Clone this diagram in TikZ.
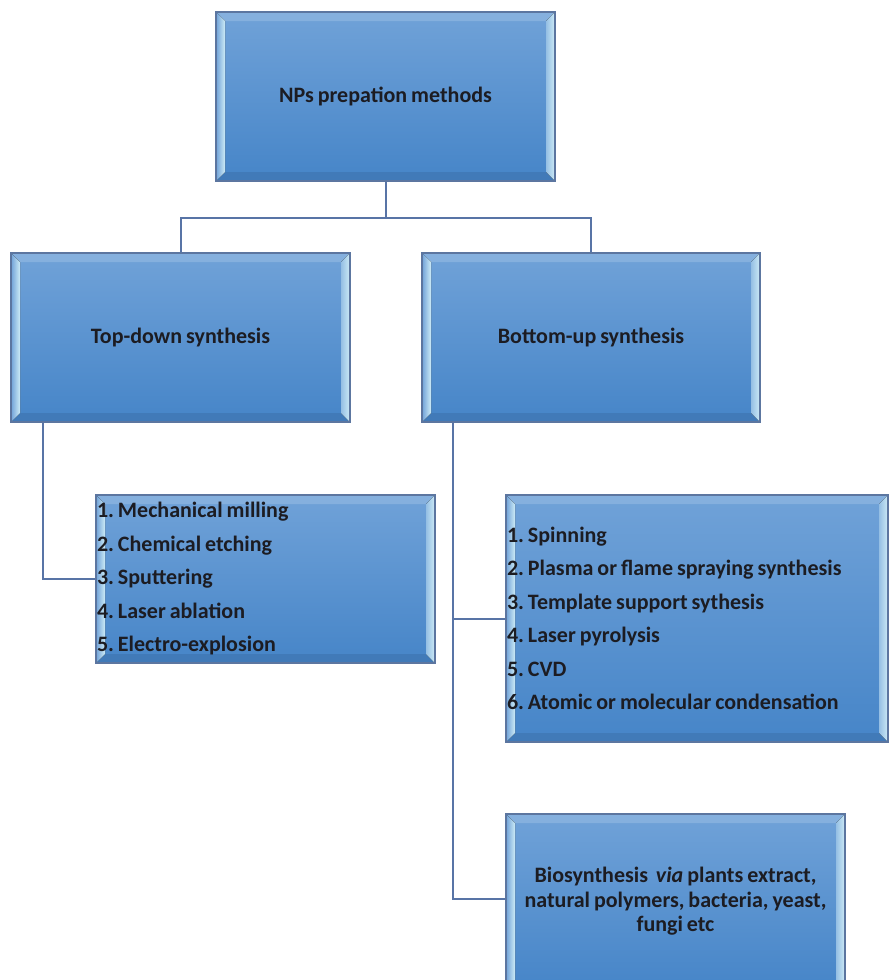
\documentclass[tikz,border=0pt]{standalone}
\usepackage{fontspec}
\setmainfont{Carlito}[WordSpace=0.8]
\usetikzlibrary{calc}

\definecolor{boxtop}{RGB}{112,162,216}
\definecolor{boxbot}{RGB}{70,133,200}
\definecolor{boxline}{RGB}{92,118,160}
\definecolor{bevlight}{RGB}{205,235,246}
\definecolor{linkcol}{RGB}{88,116,166}
\definecolor{textcol}{RGB}{28,28,34}

\tikzset{
  bevelbox/.style={draw=boxline, line width=1.5pt,
    top color=boxtop, bottom color=boxbot, text=textcol,
    font=\bfseries\frenchspacing\fontsize{22}{33.5}\selectfont, inner sep=1pt,
    path picture={
      \coordinate (pnw) at (path picture bounding box.north west);
      \coordinate (pne) at (path picture bounding box.north east);
      \coordinate (psw) at (path picture bounding box.south west);
      \coordinate (pse) at (path picture bounding box.south east);
      \fill[boxtop!85!white] (pnw) -- (pne) -- ($(pne)+(-9pt,-9pt)$) -- ($(pnw)+(9pt,-9pt)$) -- cycle;
      \fill[boxbot!92!black] (psw) -- (pse) -- ($(pse)+(-9pt,9pt)$) -- ($(psw)+(9pt,9pt)$) -- cycle;
      \fill[left color=boxtop, right color=bevlight] (psw) -- (pnw) -- ($(pnw)+(9pt,-9pt)$) -- ($(psw)+(9pt,9pt)$) -- cycle;
      \fill[left color=boxtop!60!bevlight, right color=bevlight] (pse) -- (pne) -- ($(pne)+(-9pt,-9pt)$) -- ($(pse)+(-9pt,9pt)$) -- cycle;
    }},
  headbox/.style={bevelbox, minimum width=339pt, minimum height=169pt},
  listbox/.style={bevelbox, text width=#1, align=flush left},
  link/.style={draw=linkcol, line width=2pt},
}

\begin{document}
\begin{tikzpicture}[x=1pt,y=-1pt]
\useasboundingbox (0,0) rectangle (889,980);

\node[headbox] (NPsMethods) at (385.5,96.5) {NPs prepation methods};

\node[headbox] (TopDown) at (180.5,337.5) {Top-down synthesis};
\node[headbox, minimum width=338pt] (BottomUp) at (591,337.5) {Bottom-up synthesis};

\node[listbox=337pt, minimum height=168pt] (TopDown-list) at (265.5,579) {1. Mechanical milling\\
2. Chemical etching\\
3. Sputtering\\
4. Laser ablation\\
5. Electro-explosion};

\node[listbox=380pt, minimum height=247pt] (BottomUp-list) at (697,618.5) {1. Spinning\\
2. Plasma or flame spraying synthesis\\
3. Template support sythesis\\
4. Laser pyrolysis\\
5. CVD\\
6. Atomic or molecular condensation};

\node[headbox, minimum height=175pt, align=flush center, font=\bfseries\frenchspacing\fontsize{22}{24.5}\selectfont] (BottomUp-bio) at (675.5,901.5) {Biosynthesis\ \ \textit{via} plants extract,\\
natural polymers, bacteria, yeast,\\
fungi etc};

\draw[link] (NPsMethods.south) -- ++(0,36) -| (TopDown.north);
\draw[link] (NPsMethods.south) -- ++(0,36) -| (BottomUp.north);
\draw[link] ([xshift=33pt]TopDown.south west) |- (TopDown-list.west);
\draw[link] ([xshift=32pt]BottomUp.south west) |- (BottomUp-list.west);
\draw[link] ([xshift=32pt]BottomUp.south west) |- ([yshift=2.5pt]BottomUp-bio.west);

\end{tikzpicture}
\end{document}
